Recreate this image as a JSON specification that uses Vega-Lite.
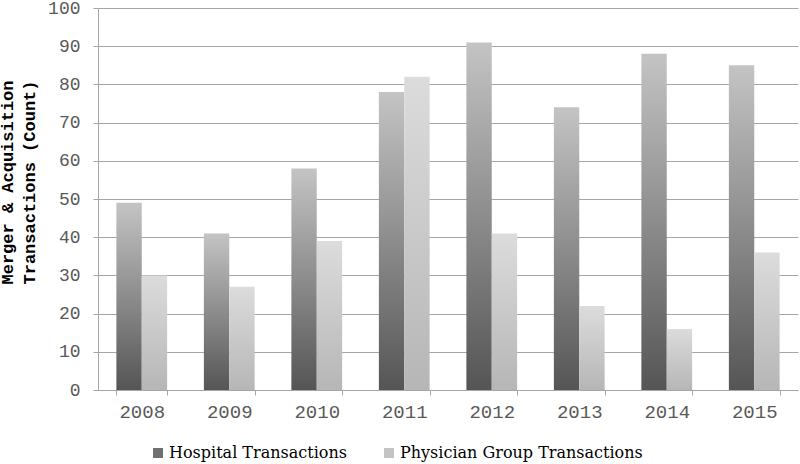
{
  "$schema": "https://vega.github.io/schema/vega-lite/v6.json",
  "autosize": "none",
  "width": 700,
  "height": 382,
  "padding": {"left": 98, "top": 8, "right": 2, "bottom": 74},
  "background": "white",
  "config": {
    "view": {"stroke": null},
    "axis": {
      "labelFont": "Liberation Mono",
      "labelFontSize": 18,
      "labelColor": "#595959",
      "domainColor": "#a6a6a6",
      "tickColor": "#a6a6a6",
      "gridColor": "#a6a6a6",
      "tickSize": 5
    },
    "legend": {"symbolOpacity": 1}
  },
  "data": {
    "values": [
      {"year": "2008", "series": "Hospital Transactions", "count": 49},
      {"year": "2009", "series": "Hospital Transactions", "count": 41},
      {"year": "2010", "series": "Hospital Transactions", "count": 58},
      {"year": "2011", "series": "Hospital Transactions", "count": 78},
      {"year": "2012", "series": "Hospital Transactions", "count": 91},
      {"year": "2013", "series": "Hospital Transactions", "count": 74},
      {"year": "2014", "series": "Hospital Transactions", "count": 88},
      {"year": "2015", "series": "Hospital Transactions", "count": 85},
      {"year": "2008", "series": "Physician Group Transactions", "count": 30},
      {"year": "2009", "series": "Physician Group Transactions", "count": 27},
      {"year": "2010", "series": "Physician Group Transactions", "count": 39},
      {"year": "2011", "series": "Physician Group Transactions", "count": 82},
      {"year": "2012", "series": "Physician Group Transactions", "count": 41},
      {"year": "2013", "series": "Physician Group Transactions", "count": 22},
      {"year": "2014", "series": "Physician Group Transactions", "count": 16},
      {"year": "2015", "series": "Physician Group Transactions", "count": 36}
    ]
  },
  "encoding": {
    "x": {
      "field": "year",
      "type": "nominal",
      "scale": {"paddingInner": 0.42, "paddingOuter": 0.21},
      "axis": {
        "title": null,
        "labelAngle": 0,
        "labelFontSize": 19,
        "tickBand": "extent",
        "labelPadding": 7,
        "grid": false
      }
    },
    "xOffset": {
      "field": "series",
      "type": "nominal",
      "scale": {"domain": ["Hospital Transactions", "Physician Group Transactions"], "paddingInner": 0}
    },
    "y": {
      "field": "count",
      "type": "quantitative",
      "scale": {"domain": [0, 100]},
      "axis": {
        "values": [0, 10, 20, 30, 40, 50, 60, 70, 80, 90, 100],
        "title": ["Merger & Acquisition", "Transactions (Count)"],
        "titleFont": "Liberation Mono",
        "titleFontWeight": "bold",
        "titleFontSize": 17,
        "titleColor": "#000000",
        "titleX": -82,
        "titleY": 174,
        "titleLineHeight": 22,
        "labelPadding": 13,
        "grid": true
      }
    }
  },
  "layer": [
    {
      "transform": [{"filter": "datum.series === 'Hospital Transactions'"}],
      "mark": {
        "type": "bar",
        "color": {
          "gradient": "linear", "x1": 0, "y1": 1, "x2": 0, "y2": 0,
          "stops": [{"offset": 0, "color": "#555555"}, {"offset": 1, "color": "#c4c4c4"}]
        }
      }
    },
    {
      "transform": [{"filter": "datum.series === 'Physician Group Transactions'"}],
      "mark": {
        "type": "bar",
        "color": {
          "gradient": "linear", "x1": 0, "y1": 1, "x2": 0, "y2": 0,
          "stops": [{"offset": 0, "color": "#b6b6b6"}, {"offset": 1, "color": "#dcdcdc"}]
        }
      }
    },
    {
      "mark": {"type": "point", "shape": "square", "filled": true, "opacity": 0},
      "encoding": {
        "color": {
          "field": "series",
          "type": "nominal",
          "scale": {"domain": ["Hospital Transactions", "Physician Group Transactions"], "range": ["#707070", "#c4c4c4"]},
          "legend": {
            "title": null,
            "orient": "none",
            "direction": "horizontal",
            "legendX": 52,
            "legendY": 437,
            "symbolType": "square",
            "symbolSize": 100,
            "symbolOpacity": 1,
            "labelFont": "DejaVu Serif",
            "labelFontSize": 16,
            "labelColor": "#000000",
            "labelLimit": 400,
            "columnPadding": 34,
            "labelOffset": 3
          }
        }
      }
    }
  ]
}
